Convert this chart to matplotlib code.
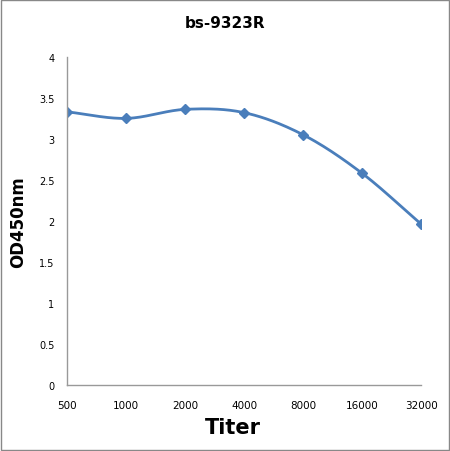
import numpy as np
import matplotlib
matplotlib.use("Agg")
import matplotlib.pyplot as plt
from matplotlib.patches import Rectangle

# chart data
titers = ["500", "1000", "2000", "4000", "8000", "16000", "32000"]
od450 = [3.33, 3.25, 3.36, 3.32, 3.05, 2.58, 1.96]
y_ticks = [0, 0.5, 1, 1.5, 2, 2.5, 3, 3.5, 4]


def smooth_curve(xs, ys, steps=30):
    # catmull-rom style smoothing like the excel "smoothed line"
    xs = np.asarray(xs, float)
    ys = np.asarray(ys, float)
    px = np.concatenate([[2 * xs[0] - xs[1]], xs, [2 * xs[-1] - xs[-2]]])
    py = np.concatenate([[2 * ys[0] - ys[1]], ys, [2 * ys[-1] - ys[-2]]])
    out_x, out_y = [], []
    t = np.linspace(0, 1, steps)
    for i in range(1, len(px) - 2):
        for p, out in ((px, out_x), (py, out_y)):
            p0, p1, p2, p3 = p[i - 1], p[i], p[i + 1], p[i + 2]
            b1 = p1 + (p2 - p0) / 6
            b2 = p2 - (p3 - p1) / 6
            seg = ((1 - t) ** 3 * p1 + 3 * (1 - t) ** 2 * t * b1
                   + 3 * (1 - t) * t ** 2 * b2 + t ** 3 * p2)
            out.extend(seg)
    return out_x, out_y


fig = plt.figure(figsize=(4.5, 4.52), dpi=100)
ax = fig.add_axes([0.149, 0.146, 0.787, 0.726])

x = np.arange(len(titers))
sx, sy = smooth_curve(x, od450)
line_color = "#4A7EBB"
ax.plot(sx, sy, color=line_color, linewidth=2.0)
ax.plot(x, od450, linestyle="none", marker="D", markersize=5,
        color=line_color)

ax.set_xlim(0, len(titers) - 1)
ax.set_ylim(0, 4)
ax.set_yticks(y_ticks)
ax.set_yticklabels([f"{v:g}" for v in y_ticks], fontsize=7)
ax.set_xticks(x)
ax.set_xticklabels(titers, fontsize=7.5)
ax.tick_params(axis="both", length=0)
ax.tick_params(axis="x", pad=11)
ax.tick_params(axis="y", pad=9)

for side in ["top", "right"]:
    ax.spines[side].set_visible(False)
for side in ["left", "bottom"]:
    ax.spines[side].set_color("#999999")
    ax.spines[side].set_linewidth(1)

fig.text(0.5, 1 - 24 / 452, "bs-9323R", fontsize=11, fontweight="bold",
         ha="center", va="center")
ax.set_xlabel("Titer", fontsize=15, fontweight="bold")
ax.xaxis.set_label_coords(0.469, -0.097)
ax.set_ylabel("OD450nm", fontsize=12, fontweight="bold")
ax.yaxis.set_label_coords(-0.113, 0.5)

# outer frame of the picture
fig.patches.append(Rectangle((0.003, 0.003), 0.994, 0.994,
                             transform=fig.transFigure, fill=False,
                             edgecolor="#888888", linewidth=1))

fig.savefig("out.png", dpi=100)
